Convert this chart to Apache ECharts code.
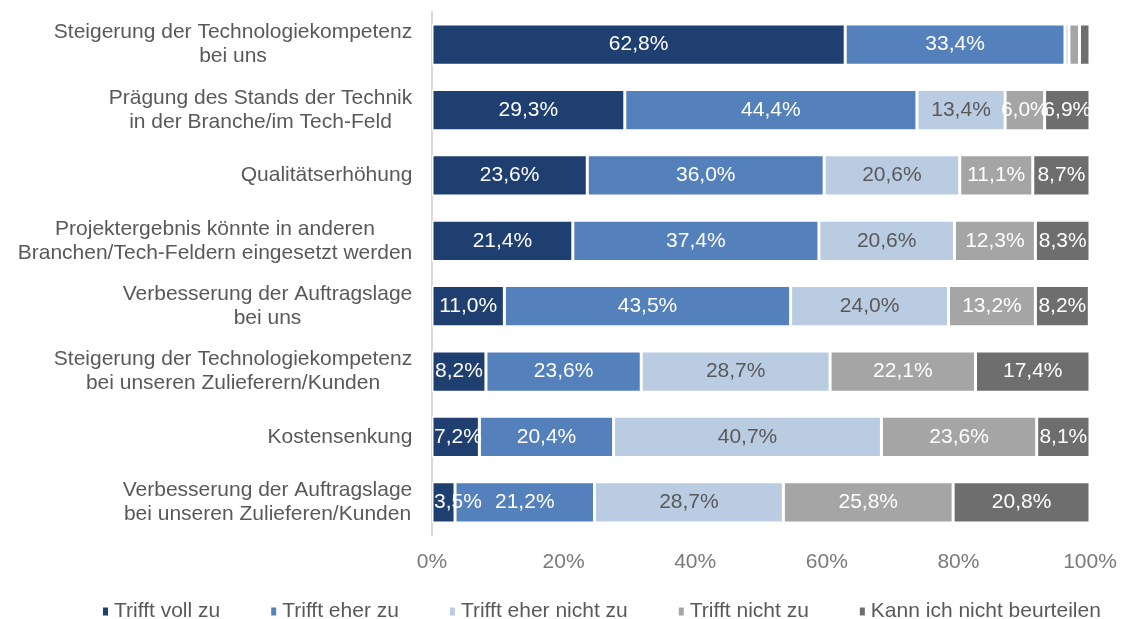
<!DOCTYPE html>
<html>
<head>
<meta charset="utf-8">
<script src="https://cdn.jsdelivr.net/npm/echarts@6/dist/echarts.min.js"></script>
<style>
  html, body { margin: 0; padding: 0; background: #fff; }
  #chart { width: 1122px; height: 619px; }
</style>
</head>
<body>
<div id="chart"></div>
<script>
// Survey statements (top to bottom)
const categories = [
  'Steigerung der Technologiekompetenz\nbei uns',
  'Prägung des Stands der Technik\nin der Branche/im Tech-Feld',
  'Qualitätserhöhung',
  'Projektergebnis könnte in anderen\nBranchen/Tech-Feldern eingesetzt werden',
  'Verbesserung der Auftragslage\nbei uns',
  'Steigerung der Technologiekompetenz\nbei unseren Zulieferern/Kunden',
  'Kostensenkung',
  'Verbesserung der Auftragslage\nbei unseren Zulieferen/Kunden'
];

const seriesNames = [
  'Trifft voll zu',
  'Trifft eher zu',
  'Trifft eher nicht zu',
  'Trifft nicht zu',
  'Kann ich nicht beurteilen'
];

// Shares in percent, one value per statement
const trifftVoll       = [62.8, 29.3, 23.6, 21.4, 11.0,  8.2,  7.2,  3.5];
const trifftEher       = [33.4, 44.4, 36.0, 37.4, 43.5, 23.6, 20.4, 21.2];
const trifftEherNicht  = [ 0.6, 13.4, 20.6, 20.6, 24.0, 28.7, 40.7, 28.7];
const trifftNicht      = [ 1.6,  6.0, 11.1, 12.3, 13.2, 22.1, 23.6, 25.8];
const kannNicht        = [ 1.6,  6.9,  8.7,  8.3,  8.2, 17.4,  8.1, 20.8];

const xTicks = [0, 20, 40, 60, 80, 100];

const colors = ['#1f3f71', '#5481bc', '#bacce2', '#a5a5a5', '#6e6e6e'];
const labelColors = ['#ffffff', '#ffffff', '#595959', '#ffffff', '#ffffff'];
const values = [trifftVoll, trifftEher, trifftEherNicht, trifftNicht, kannNicht];

const FONT = '"Liberation Sans", Arial, sans-serif';
const FS = 21;

// Multi-line category labels: lines centred within their own block,
// block right-aligned against the axis
const measureCtx = document.createElement('canvas').getContext('2d');
measureCtx.font = FS + 'px ' + FONT;
const rich = {};
categories.forEach((c, i) => {
  const w = Math.max(...c.split('\n').map(l => measureCtx.measureText(l).width));
  rich['c' + i] = {
    width: Math.ceil(w) + 1,
    align: 'center',
    fontSize: FS,
    lineHeight: 24,
    fontFamily: FONT,
    color: '#595959'
  };
});

// Narrow first segments keep their label starting at the axis
function seriesData(arr, k) {
  return arr.map(v => (k === 0 && v < 8)
    ? { value: v, label: { position: 'insideLeft', distance: 2 } }
    : v);
}

const chart = echarts.init(document.getElementById('chart'));

chart.setOption({
  animation: false,
  textStyle: { fontFamily: FONT },
  grid: { left: 432, right: 32, top: 12, bottom: 84, containLabel: false },
  legend: {
    data: seriesNames,
    top: 596,
    left: 96,
    itemWidth: 7,
    itemHeight: 10,
    itemGap: 49,
    icon: 'rect',
    textStyle: { fontSize: FS, color: '#595959', fontFamily: FONT }
  },
  xAxis: {
    type: 'value',
    min: xTicks[0],
    max: xTicks[xTicks.length - 1],
    interval: 20,
    splitLine: { show: false },
    axisLine: { show: false },
    axisTick: { show: false },
    axisLabel: {
      margin: 17,
      fontSize: FS,
      color: '#7a7a7a',
      fontFamily: FONT,
      formatter: v => v + '%'
    }
  },
  yAxis: {
    type: 'category',
    inverse: true,
    data: categories,
    axisTick: { show: false },
    axisLine: { show: true, lineStyle: { color: '#d9d9d9', width: 2 } },
    axisLabel: {
      margin: 19,
      align: 'right',
      formatter: (v, i) => '{c' + i + '|' + v + '}',
      rich: rich
    }
  },
  series: seriesNames.map((name, k) => ({
    name: name,
    type: 'bar',
    stack: 'total',
    barWidth: '63%',
    data: seriesData(values[k], k),
    itemStyle: { color: colors[k], borderColor: '#ffffff', borderWidth: 1.5 },
    label: {
      show: true,
      position: 'inside',
      color: labelColors[k],
      fontSize: FS,
      fontFamily: FONT,
      formatter: p => p.value < 3 ? '' : p.value.toFixed(1).replace('.', ',') + '%'
    }
  }))
});
</script>
</body>
</html>
